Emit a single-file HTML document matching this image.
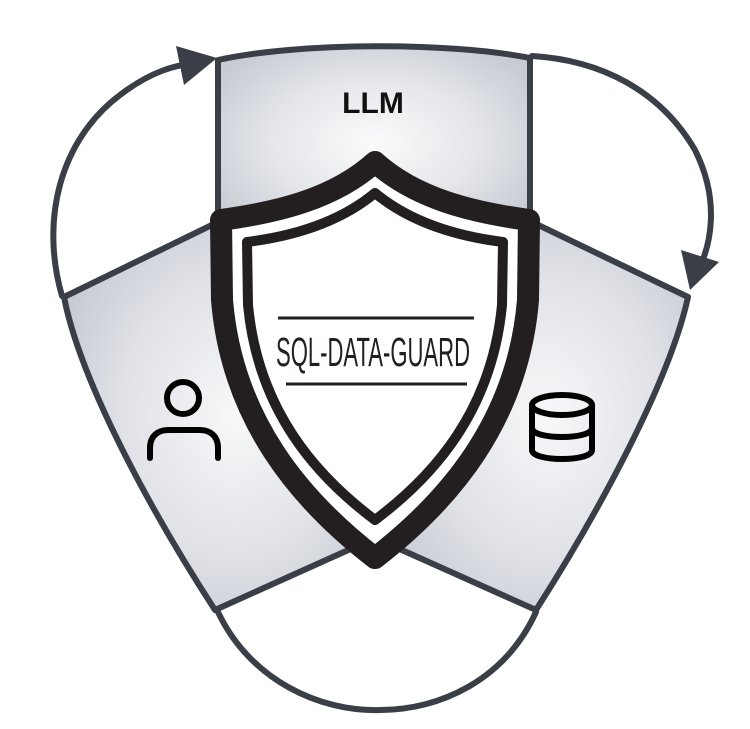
<!DOCTYPE html>
<html><head><meta charset="utf-8"><style>
html,body{margin:0;padding:0;background:#fff}
svg{display:block}
</style></head><body>
<svg width="750" height="729" viewBox="0 0 750 729" xmlns="http://www.w3.org/2000/svg">
<defs>
<radialGradient id="g1" cx="0.5" cy="0.5" r="0.6">
<stop offset="0" stop-color="#fbfbfc"/><stop offset="0.55" stop-color="#e4e6ea"/><stop offset="1" stop-color="#c7cbd3"/>
</radialGradient>
<radialGradient id="gl" cx="0.55" cy="0.5" r="0.6">
<stop offset="0" stop-color="#f8f8fa"/><stop offset="0.6" stop-color="#e0e2e7"/><stop offset="1" stop-color="#c7cbd3"/>
</radialGradient>
</defs>
<g fill="none" stroke="#393e47" stroke-width="6" stroke-linecap="round">
<path d="M62,296 C40,220 60,140 120,95 C150,72 175,64 205,62"/>
<path d="M532,56 C600,60 660,90 695,150 C720,200 712,245 696,275"/>
<path d="M218,612 C250,680 320,712 380,710 C440,710 505,680 536,612"/>
</g>
<polygon points="176,46 217,58 184,85" fill="#393e47"/>
<polygon points="681,250 719,262 690,290" fill="#393e47"/>
<path d="M218,60 C300,42 450,42 530,58 L530,240 L218,240 Z" fill="url(#g1)" stroke="#393e47" stroke-width="6" stroke-linejoin="round"/>
<path d="M64,297 L218,222 L300,480 L375,538 L215,610 C150,510 80,380 64,297 Z" fill="url(#gl)" stroke="#393e47" stroke-width="6" stroke-linejoin="round"/>
<path d="M688,297 L532,222 L450,480 L375,538 L536,610 C600,510 670,380 688,297 Z" fill="url(#gl)" stroke="#393e47" stroke-width="6" stroke-linejoin="round"/>
<path d="M375,162 C335,198 280,212 221,220 L222,300 C232,420 300,500 375,558 C450,500 518,420 528,300 L529,220 C470,212 415,198 375,162 Z" fill="#fff" stroke="#231f20" stroke-width="22" stroke-linejoin="round"/>
<path d="M375,193 C340,222 295,236 247,242 L248,305 C258,410 315,475 375,520 C435,475 492,410 502,305 L503,242 C455,236 410,222 375,193 Z" fill="#fff" stroke="#231f20" stroke-width="10" stroke-linejoin="round"/>
<line x1="278" y1="318" x2="474" y2="318" stroke="#231f20" stroke-width="3"/>
<line x1="286" y1="384" x2="467" y2="384" stroke="#231f20" stroke-width="3"/>
<g transform="translate(373,366) scale(1,1.45)">
<text x="0" y="0" text-anchor="middle" font-family="'Liberation Sans Narrow','Liberation Sans',sans-serif" font-size="28" fill="#231f20" textLength="194" lengthAdjust="spacingAndGlyphs">SQL-DATA-GUARD</text>
</g>
<text x="373" y="113" text-anchor="middle" font-family="'Liberation Sans',sans-serif" font-weight="bold" font-size="30" fill="#111">LLM</text>
<g fill="none" stroke="#000" stroke-width="6" stroke-linecap="round">
<circle cx="183" cy="398" r="16"/>
<path d="M150,458 L150,448 C150,436 158,430 168,430 L200,430 C210,430 218,436 218,448 L218,458"/>
<ellipse cx="562" cy="405" rx="30" ry="10"/>
<path d="M532,405 L532,450 C532,462 592,462 592,450 L592,405"/>
<path d="M532,428 C532,440 592,440 592,428"/>
</g>
</svg>
</body></html>
